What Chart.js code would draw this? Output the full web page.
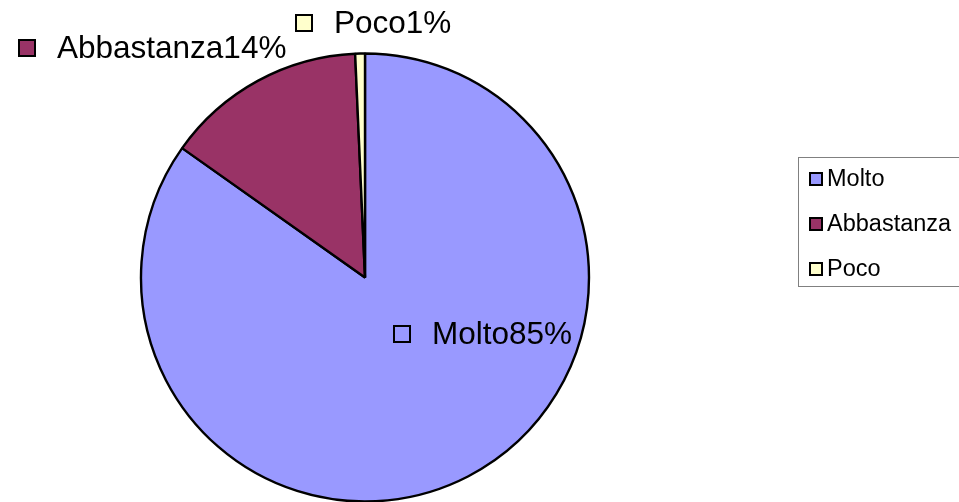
<!DOCTYPE html>
<html>
<head>
<meta charset="utf-8">
<script src="https://cdn.jsdelivr.net/npm/chart.js@4/dist/chart.umd.min.js"></script>
<style>
  html, body { margin: 0; padding: 0; background: #ffffff; }
  #wrap { width: 959px; height: 502px; position: relative; overflow: hidden; }
</style>
</head>
<body>
<div id="wrap"><canvas id="pieChart" width="959" height="502"></canvas></div>
<script>
// Chart data
const categories = ['Molto', 'Abbastanza', 'Poco'];
const shares = [84.8, 14.5, 0.7];
const percentLabels = ['85%', '14%', '1%'];
const sliceColors = ['#9999FF', '#993366', '#FFFFCC'];

const FONT = '"Liberation Sans", Arial, Helvetica, sans-serif';

// Excel-style data labels: small colour key square followed by "Name + percent"
const dataLabelPlugin = {
    id: 'dataLabels',
    afterDatasetsDraw(chart, args, opts) {
        const ctx = chart.ctx;
        const meta = chart.getDatasetMeta(0);
        ctx.save();
        ctx.font = `${opts.fontSize}px ${FONT}`;
        ctx.textBaseline = 'middle';
        ctx.textAlign = 'left';
        meta.data.forEach((arc, i) => {
            const pos = opts.anchors[i];
            const s = opts.keySize;
            ctx.fillStyle = sliceColors[i];
            ctx.fillRect(pos.x, pos.y - s / 2, s, s);
            ctx.lineWidth = 2;
            ctx.strokeStyle = '#000';
            ctx.strokeRect(pos.x, pos.y - s / 2, s, s);
            ctx.fillStyle = '#000';
            ctx.fillText(categories[i] + percentLabels[i], pos.x + s + opts.gap, pos.y + 1);
        });
        ctx.restore();
    }
};

// Boxed legend at the right, partly cut by the page edge like the original
const boxLegendPlugin = {
    id: 'boxLegend',
    afterDraw(chart, args, opts) {
        const ctx = chart.ctx;
        ctx.save();
        ctx.strokeStyle = '#808080';
        ctx.lineWidth = 1;
        ctx.strokeRect(opts.x + 0.5, opts.y + 0.5, opts.width, opts.height);
        ctx.font = `${opts.fontSize}px ${FONT}`;
        ctx.textBaseline = 'middle';
        categories.forEach((name, i) => {
            const cy = opts.y + opts.firstRow + i * opts.rowGap;
            const s = opts.keySize;
            ctx.fillStyle = sliceColors[i];
            ctx.fillRect(opts.x + opts.keyX, cy - s / 2, s, s);
            ctx.lineWidth = 2;
            ctx.strokeStyle = '#000';
            ctx.strokeRect(opts.x + opts.keyX, cy - s / 2, s, s);
            ctx.fillStyle = '#000';
            ctx.fillText(name, opts.x + opts.keyX + s + 5, cy + 1);
        });
        ctx.restore();
    }
};

new Chart(document.getElementById('pieChart'), {
    type: 'pie',
    data: {
        labels: categories,
        datasets: [{
            data: shares,
            backgroundColor: sliceColors,
            borderColor: '#000000',
            borderWidth: 2.4,
        }]
    },
    options: {
        responsive: false,
        animation: false,
        radius: 224,
        layout: { padding: { left: 140, right: 369, top: 53, bottom: 0 } },
        plugins: {
            legend: { display: false },
            tooltip: { enabled: false },
            dataLabels: {
                fontSize: 31.5,
                keySize: 16,
                gap: 22,
                anchors: [
                    { x: 394, y: 334 },
                    { x: 19, y: 48 },
                    { x: 296, y: 23 },
                ],
            },
            boxLegend: {
                x: 798, y: 157, width: 200, height: 129,
                fontSize: 23.5, keySize: 12, keyX: 12,
                firstRow: 22, rowGap: 45,
            },
        },
    },
    plugins: [dataLabelPlugin, boxLegendPlugin],
});
</script>
</body>
</html>
